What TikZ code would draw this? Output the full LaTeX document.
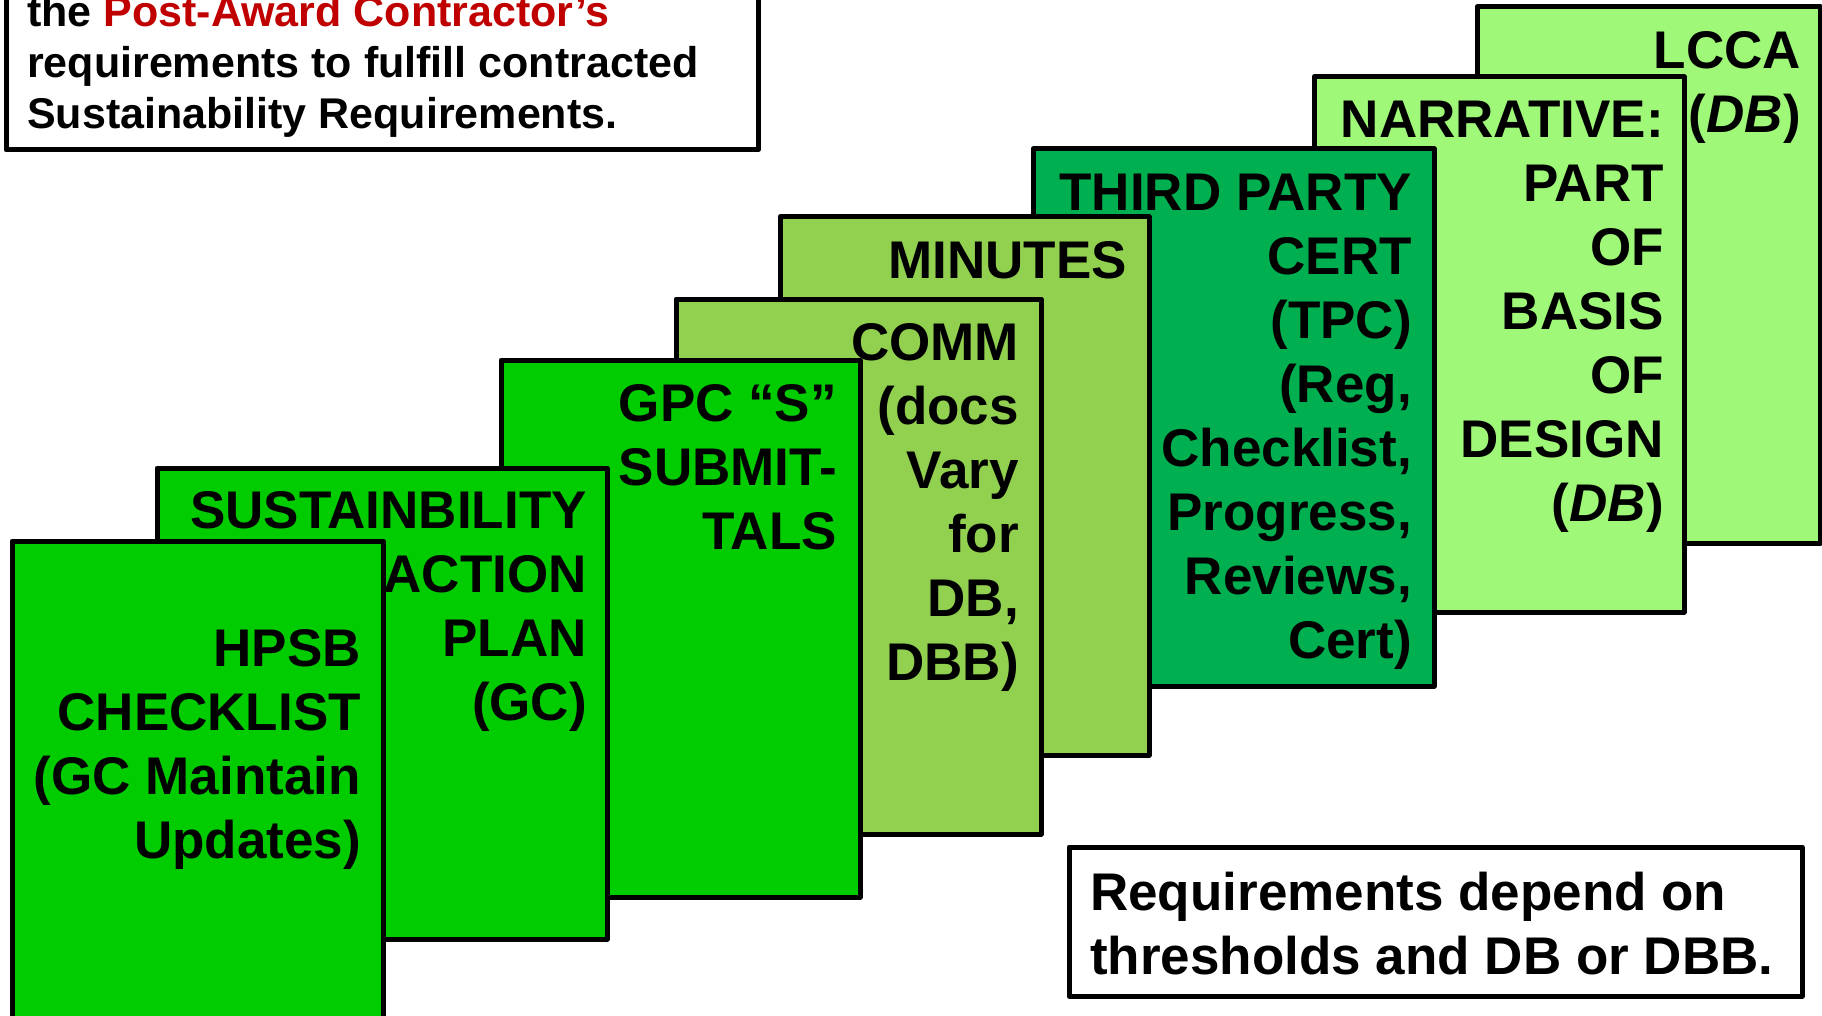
\documentclass[tikz,border=0pt]{standalone}
\usepackage{fontspec}
\setmainfont{Liberation Sans}
\definecolor{leafgreen}{HTML}{00CC00}
\definecolor{certgreen}{HTML}{00B050}
\definecolor{olivegreen}{HTML}{92D050}
\definecolor{palegreen}{HTML}{A0F878}
\definecolor{awardred}{HTML}{C00000}
\tikzset{
  card/.style={draw=black,line width=5pt,line join=round},
  cardtext/.style={font=\fontsize{53}{64}\selectfont\bfseries,align=right,anchor=north east,inner sep=0pt},
  notetext/.style={align=left,anchor=north west,inner sep=0pt}
}
\begin{document}
\begin{tikzpicture}[x=1pt,y=-1pt]
\clip (0,0) rectangle (1822,1016);
% cards, back to front
\filldraw[card,fill=palegreen] (1477,7) rectangle (1820,543);
\node[cardtext] (lcca) at (1801,31) {LCCA\\(\textit{DB})};
\filldraw[card,fill=palegreen] (1314,77) rectangle (1684,612);
\node[cardtext] (narrative) at (1664,101) {NARRATIVE:\\PART\\OF\\BASIS\\OF\\DESIGN\\(\textit{DB})};
\filldraw[card,fill=certgreen] (1033,149) rectangle (1434,686);
\node[cardtext] (tpc) at (1412,174) {THIRD PARTY\\CERT\\(TPC)\\(Reg,\\Checklist,\\Progress,\\Reviews,\\Cert)};
\filldraw[card,fill=olivegreen] (780,217) rectangle (1149,755);
\node[cardtext] (minutes) at (1127,241) {MINUTES};
\filldraw[card,fill=olivegreen] (676,299) rectangle (1041,834);
\node[cardtext] (comm) at (1019,323) {COMM\\(docs\\Vary\\for\\DB,\\DBB)};
\filldraw[card,fill=leafgreen] (501,360) rectangle (860,897);
\node[cardtext] (gpc) at (837,384) {GPC “S”\\SUBMIT-\\TALS};
\filldraw[card,fill=leafgreen] (157,468) rectangle (607,939);
\node[cardtext] (sap) at (587,491) {SUSTAINBILITY\\ACTION\\PLAN\\(GC)};
\filldraw[card,fill=leafgreen] (12,541) rectangle (383,1040);
\node[cardtext] (hpsb) at (361,629) {HPSB\\CHECKLIST\\(GC Maintain\\Updates)};
% notes
\filldraw[card,fill=white] (6,-30) rectangle (758,150);
\node[notetext,font=\fontsize{43}{51}\selectfont\bfseries] (intro) at (27,-5)
  {the \textcolor{awardred}{Post-Award Contractor’s}\\requirements to fulfill contracted\\Sustainability Requirements.};
\filldraw[card,fill=white] (1069,847) rectangle (1802,996);
\node[notetext,font=\fontsize{53}{64}\selectfont\bfseries] (depend) at (1090,872)
  {Requirements depend on\\thresholds and DB or DBB.};
\end{tikzpicture}
\end{document}
